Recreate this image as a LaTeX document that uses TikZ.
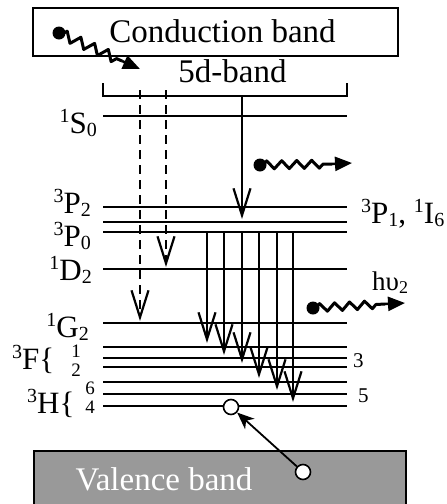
\documentclass[tikz,border=0pt]{standalone}
\usepackage{fontspec}
\setmainfont{Liberation Serif}
\usetikzlibrary{arrows.meta,decorations.pathmorphing}
\newcommand\lvlab[3]{\raisebox{11pt}{\fontsize{20}{20}\selectfont #1}#2\raisebox{-3pt}{\fontsize{20}{20}\selectfont #3}}
\newcommand\supx[1]{\raisebox{11pt}{\fontsize{20}{20}\selectfont #1}}
\begin{document}
\begin{tikzpicture}[x=1pt,y=-1pt,
  level/.style={line width=2pt},
  trans/.style={line width=2.2pt,-{Straight Barb[length=27pt,width=17pt]}},
  dtrans/.style={trans,dash pattern=on 9pt off 6pt},
  lab/.style={inner sep=0pt,font=\fontsize{31}{31}\selectfont},
  small/.style={inner sep=0pt,font=\fontsize{21}{21}\selectfont},
  digit/.style={inner sep=0pt,anchor=base,font=\fontsize{19}{19}\selectfont},
  dotn/.style={circle,fill=black,inner sep=0pt,minimum size=13pt},
  hole/.style={circle,draw=black,fill=white,line width=1.6pt,inner sep=0pt,minimum size=15pt},
  photon/.style={line width=3pt,line join=round,decorate,decoration={zigzag,segment length=15pt,amplitude=4pt,pre length=3pt,post length=2pt}},
  ptip/.style={line width=2.5pt,-{Triangle[length=17pt,width=14pt]}},
  bandbox/.style={draw=black,line width=2pt}
]
\useasboundingbox (0,0) rectangle (447,504);
% conduction band
\node[bandbox,fill=white,minimum width=365pt,minimum height=48pt,inner sep=0pt] (cb) at (215.5,32) {};
\node[anchor=base,inner sep=0pt,font=\fontsize{33}{33}\selectfont] (cbt) at (222.5,42) {Conduction band};
% valence band
\node[bandbox,fill=black!40,minimum width=372pt,minimum height=70pt,inner sep=0pt,anchor=north west] (vb) at (33,450) {};
\node[anchor=base,inner sep=0pt,text=white,font=\fontsize{33}{33}\selectfont] (vbt) at (164,490) {Valence band};
% 5d band
\node[anchor=base,inner sep=0pt,font=\fontsize{33}{33}\selectfont] (dband) at (232.5,82) {5d-band};
\coordinate (bl) at (103,83); \coordinate (br) at (347,83);
\draw[level] (bl) -- ++(0,13) coordinate (bl2) -- (bl2 -| br) coordinate (br2) -- (br);
% levels
\foreach \n/\y in {S0/116,P2/207,P1/222,P0/232,D2/269,G2/323,F4/347,F3/358,F2/367,H6/382,H5/394,H4/406}{
  \coordinate (\n-w) at (103,\y); \coordinate (\n-e) at (347,\y);
  \draw[level] (\n-w) -- (\n-e);
}
% left labels
\node[lab,anchor=base east] (lS0) at (97,133) {\lvlab{1}{S}{0}};
\node[lab,anchor=base east] (lP2) at (91,213) {\lvlab{3}{P}{2}};
\node[lab,anchor=base east] (lP0) at (91,246) {\lvlab{3}{P}{0}};
\node[lab,anchor=base east] (lD2) at (92,280) {\lvlab{1}{D}{2}};
\node[lab,anchor=base east] (lG2) at (89,337) {\lvlab{1}{G}{2}};
\node[lab,anchor=base west] (lF) at (12,369) {\supx{3}F\fontsize{31}{31}\selectfont\{};
\node[digit] (lF1) at (76,357) {1};
\node[digit] (lF2) at (76,376) {2};
\node[lab,anchor=base west] (lH) at (27,413) {\supx{3}H\fontsize{31}{31}\selectfont\{};
\node[digit] (lH6) at (90,394) {6};
\node[digit] (lH4) at (90,413) {4};
% right labels
\node[inner sep=0pt,anchor=base west,font=\fontsize{31}{31}\selectfont] (rP1) at (361,223) {\lvlab{3}{P}{1}, \lvlab{1}{I}{6}};
\node[small,anchor=base west] (r3) at (353,367) {3};
\node[small,anchor=base west] (r5) at (358,402) {5};
\node[inner sep=0pt,anchor=base west,font=\fontsize{27}{27}\selectfont] (hv) at (372,290) {hυ\raisebox{-3pt}{\fontsize{18}{18}\selectfont 2}};
% dashed transitions
\coordinate (da1) at (140,90); \coordinate (da1e) at (140,321);
\coordinate (da2) at (166,90); \coordinate (da2e) at (166,267);
\draw[dtrans] (da1) -- (da1e);
\draw[dtrans] (da2) -- (da2e);
% solid from 5d band
\coordinate (sa) at (242,96); \coordinate (sae) at (242,219);
\draw[trans] (sa) -- (sae);
% cascade
\foreach \x/\e [count=\i] in {207/343,224/355,242/363,259/378,277/390,293/402}{
  \coordinate (cs\i) at (\x,232); \coordinate (ce\i) at (\x,\e);
  \draw[trans] (cs\i) -- (ce\i);
}
% photons
\node[dotn] (d0) at (59,33) {};
\coordinate (w0) at (122,61); \coordinate (t0) at (140,69);
\draw[photon,decoration={segment length=15pt,amplitude=5pt}] (d0.center) -- (w0);
\draw[ptip] (w0) -- (t0);
\node[dotn] (d1) at (260,165) {};
\coordinate (w1) at (332,164); \coordinate (t1) at (352,163);
\draw[photon] (d1.center) -- (w1);
\draw[ptip] (w1) -- (t1);
\node[dotn] (d2) at (313,308) {};
\coordinate (w2) at (385,304); \coordinate (t2) at (405,303);
\draw[photon] (d2.center) -- (w2);
\draw[ptip] (w2) -- (t2);
% holes
\node[hole] (h2) at (303,472) {};
\node[hole] (h1) at (231,407) {};
\draw[line width=1.8pt,-{Stealth[length=17pt,width=14pt,inset=5pt]}] (h2) -- (h1);
\end{tikzpicture}
\end{document}
